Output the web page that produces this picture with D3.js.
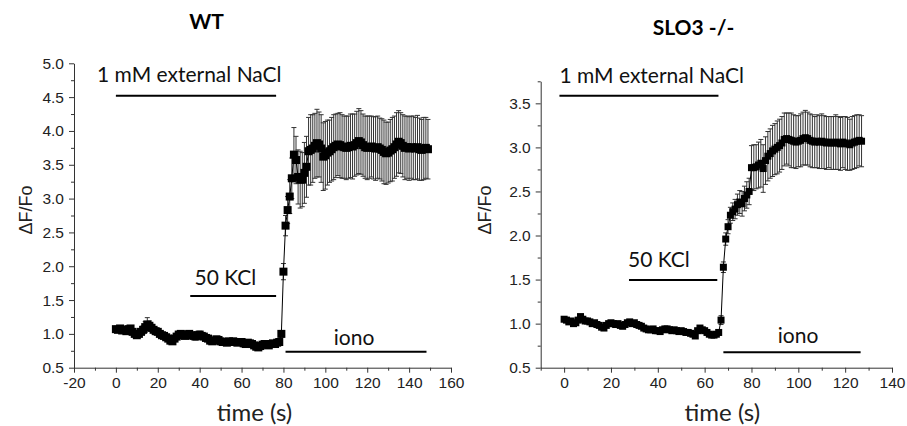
<!DOCTYPE html>
<html>
<head>
<meta charset="utf-8">
<script src="https://cdn.jsdelivr.net/npm/d3@7"></script>
<style>
  body { margin: 0; background: #fff; }
  svg { display: block; }
</style>
</head>
<body>
<svg id="chart" width="907" height="426"></svg>
<script>
// WT, time in s
var wtTime = [0,1,2,3,4,5,6,7,8,9,10,11,12,13,14,15,16,17,18,19,20,21,22,23,24,25,26,27,28,29,
  30,31,32,33,34,35,36,37,38,39,40,41,42,43,44,45,46,47,48,49,50,51,52,53,54,55,56,57,58,59,
  60,61,62,63,64,65,66,67,68,69,70,71,72,73,74,75,76,77,78,79,80,81,82,83,84,85,86,87,88,89,
  90,91,92,93,94,95,96,97,98,99,100,101,102,103,104,105,106,107,108,109,110,111,112,113,114,
  115,116,117,118,119,120,121,122,123,124,125,126,127,128,129,130,131,132,133,134,135,136,137,
  138,139,140,141,142,143,144,145,146,147,148,149];
var wtValue = [1.07,1.06,1.08,1.05,1.06,1.04,1.07,1.08,1.03,1.00,0.98,1.00,1.03,1.06,1.10,1.14,1.12,1.09,1.06,1.04,
  1.03,1.00,0.98,0.97,0.95,0.93,0.90,0.89,0.93,0.96,0.99,1.00,0.98,0.97,0.99,1.00,0.98,0.97,0.96,0.98,
  0.99,0.97,0.96,0.94,0.93,0.90,0.89,0.90,0.92,0.91,0.89,0.88,0.88,0.87,0.89,0.88,0.89,0.88,0.87,0.88,
  0.88,0.86,0.85,0.87,0.86,0.85,0.83,0.81,0.80,0.82,0.84,0.85,0.84,0.83,0.85,0.86,0.85,0.87,0.88,1.00,
  1.92,2.60,2.83,3.03,3.30,3.65,3.57,3.32,3.28,3.28,3.38,3.47,3.70,3.72,3.74,3.78,3.82,3.80,3.74,3.62,
  3.64,3.68,3.70,3.73,3.76,3.78,3.80,3.79,3.77,3.76,3.75,3.76,3.78,3.77,3.79,3.82,3.85,3.83,3.79,3.76,
  3.75,3.76,3.77,3.75,3.74,3.76,3.74,3.72,3.69,3.67,3.68,3.71,3.73,3.76,3.80,3.84,3.82,3.78,3.75,3.76,
  3.74,3.76,3.75,3.74,3.76,3.73,3.72,3.74,3.75,3.73];
var wtError = [0.03,0.03,0.03,0.03,0.03,0.03,0.03,0.03,0.03,0.03,0.03,0.03,0.04,0.06,0.08,0.10,0.07,0.05,0.04,0.03,
  0.03,0.03,0.03,0.03,0.03,0.03,0.03,0.03,0.03,0.03,0.03,0.03,0.03,0.03,0.03,0.03,0.04,0.04,0.05,0.05,
  0.05,0.04,0.04,0.03,0.03,0.03,0.03,0.03,0.03,0.03,0.03,0.03,0.03,0.03,0.03,0.03,0.03,0.03,0.03,0.03,
  0.03,0.03,0.03,0.03,0.03,0.03,0.03,0.03,0.03,0.03,0.03,0.03,0.03,0.03,0.03,0.03,0.03,0.03,0.03,0.05,
  0.12,0.15,0.20,0.25,0.30,0.40,0.35,0.40,0.42,0.40,0.45,0.45,0.50,0.52,0.50,0.48,0.50,0.48,0.50,0.50,
  0.50,0.48,0.46,0.47,0.48,0.47,0.46,0.48,0.47,0.46,0.47,0.46,0.47,0.48,0.46,0.47,0.48,0.47,0.46,0.46,
  0.47,0.46,0.45,0.46,0.47,0.46,0.45,0.46,0.47,0.46,0.45,0.46,0.47,0.46,0.47,0.46,0.45,0.46,0.47,0.46,
  0.47,0.46,0.47,0.46,0.47,0.46,0.45,0.46,0.45,0.44];

// SLO3 -/-, time in s
var sloTime = [0,1,2,3,4,5,6,7,8,9,10,11,12,13,14,15,16,17,18,19,20,21,22,23,24,25,26,27,28,29,
  30,31,32,33,34,35,36,37,38,39,40,41,42,43,44,45,46,47,48,49,50,51,52,53,54,55,56,57,58,59,
  60,61,62,63,64,65,66,67,68,69,70,71,72,73,74,75,76,77,78,79,80,81,82,83,84,85,86,87,88,89,
  90,91,92,93,94,95,96,97,98,99,100,101,102,103,104,105,106,107,108,109,110,111,112,113,114,
  115,116,117,118,119,120,121,122,123,124,125,126,127];
var sloValue = [1.05,1.04,1.02,1.03,1.00,1.01,1.04,1.08,1.05,1.03,1.03,1.02,1.00,1.01,0.99,0.98,0.96,0.95,0.98,1.00,
  1.01,1.00,0.99,1.00,0.98,0.97,0.99,1.01,1.02,1.00,1.01,0.99,0.98,0.97,0.95,0.94,0.93,0.93,0.94,0.92,
  0.92,0.91,0.93,0.94,0.94,0.93,0.92,0.93,0.92,0.91,0.92,0.91,0.90,0.90,0.89,0.88,0.86,0.92,0.95,0.93,
  0.92,0.90,0.88,0.87,0.87,0.88,0.90,1.04,1.64,1.96,2.10,2.23,2.27,2.30,2.35,2.38,2.36,2.42,2.46,2.50,
  2.77,2.77,2.78,2.80,2.82,2.76,2.85,2.90,2.93,2.96,2.98,3.00,3.02,3.05,3.09,3.10,3.09,3.08,3.07,3.06,
  3.07,3.08,3.10,3.11,3.10,3.08,3.07,3.06,3.07,3.06,3.07,3.06,3.05,3.06,3.05,3.05,3.06,3.05,3.04,3.06,
  3.05,3.04,3.03,3.05,3.06,3.07,3.08,3.07];
var sloError = [0.02,0.02,0.02,0.02,0.02,0.02,0.02,0.02,0.02,0.02,0.02,0.02,0.02,0.02,0.02,0.02,0.02,0.02,0.02,0.02,
  0.02,0.02,0.02,0.02,0.02,0.02,0.02,0.02,0.02,0.02,0.02,0.02,0.02,0.02,0.02,0.02,0.02,0.02,0.02,0.02,
  0.02,0.02,0.02,0.02,0.02,0.02,0.02,0.02,0.02,0.02,0.02,0.02,0.02,0.02,0.02,0.02,0.02,0.02,0.02,0.02,
  0.02,0.02,0.02,0.02,0.02,0.02,0.03,0.05,0.06,0.07,0.08,0.09,0.10,0.11,0.12,0.13,0.14,0.14,0.15,0.15,
  0.25,0.26,0.25,0.26,0.27,0.27,0.27,0.28,0.28,0.29,0.29,0.30,0.30,0.30,0.30,0.29,0.30,0.31,0.30,0.30,
  0.29,0.30,0.30,0.31,0.30,0.30,0.30,0.29,0.30,0.30,0.31,0.30,0.30,0.29,0.30,0.30,0.31,0.30,0.30,0.29,
  0.30,0.30,0.29,0.30,0.30,0.30,0.29,0.29];

// axis ticks
var wtXTicks = [-20, 0, 20, 40, 60, 80, 100, 120, 140, 160];
var wtXMinor = [-10, 10, 30, 50, 70, 90, 110, 130, 150];
var wtYTicks = [0.5, 1.0, 1.5, 2.0, 2.5, 3.0, 3.5, 4.0, 4.5, 5.0];
var wtYMinor = [0.75, 1.25, 1.75, 2.25, 2.75, 3.25, 3.75, 4.25, 4.75];
var sloXTicks = [0, 20, 40, 60, 80, 100, 120, 140];
var sloXMinor = [-10, 10, 30, 50, 70, 90, 110, 130];
var sloYTicks = [0.5, 1.0, 1.5, 2.0, 2.5, 3.0, 3.5];
var sloYMinor = [0.75, 1.25, 1.75, 2.25, 2.75, 3.25, 3.75];

// treatment bars: label, start, end (s), level, label x (s)
var wtBars = [
  { label: '1 mM external NaCl', t0: 0, t1: 76.5, level: 4.52, lx: -9, anchor: 'start' },
  { label: '50 KCl', t0: 35.5, t1: 76.5, level: 1.56, lx: 52.3, anchor: 'middle' },
  { label: 'iono', t0: 81, t1: 148.3, level: 0.737, lx: 113.7, anchor: 'middle' }
];
var sloBars = [
  { label: '1 mM external NaCl', t0: -2, t1: 65.9, level: 3.586, lx: -2, anchor: 'start' },
  { label: '50 KCl', t0: 27.7, t1: 65.4, level: 1.495, lx: 40.5, anchor: 'middle' },
  { label: 'iono', t0: 68, t1: 126.6, level: 0.675, lx: 99.9, anchor: 'middle' }
];

var svg = d3.select('#chart');

var drawPanel = function (p) {
  var g = svg.append('g');

  var x = d3.scaleLinear().domain(p.xDomain).range(p.xRange);
  var y = d3.scaleLinear().domain(p.yDomain).range([367.7, p.yTop]);

  var pts = p.time.map(function (t, i) {
    return { t: t, v: p.value[i], e: p.error[i] };
  });

  // axes
  g.append('g')
    .attr('transform', 'translate(0,' + y.range()[0] + ')')
    .call(d3.axisBottom(x).tickValues(p.xTicks).tickSize(5).tickPadding(4).tickSizeOuter(0)
      .tickFormat(function (d) { return String(d); }));
  g.append('g')
    .attr('transform', 'translate(0,' + y.range()[0] + ')')
    .call(d3.axisBottom(x).tickValues(p.xMinor).tickSize(3).tickFormat('').tickSizeOuter(0))
    .select('.domain').remove();

  g.append('g')
    .attr('transform', 'translate(' + x.range()[0] + ',0)')
    .call(d3.axisLeft(y).tickValues(p.yTicks).tickSize(5).tickPadding(5).tickSizeOuter(0)
      .tickFormat(d3.format('.1f')));
  g.append('g')
    .attr('transform', 'translate(' + x.range()[0] + ',0)')
    .call(d3.axisLeft(y).tickValues(p.yMinor).tickSize(3).tickFormat('').tickSizeOuter(0))
    .select('.domain').remove();

  g.selectAll('.domain, .tick line').attr('stroke', '#333');
  g.selectAll('.tick text')
    .attr('fill', '#222')
    .style('font-family', 'Liberation Sans, Arial, sans-serif')
    .style('font-size', '15.5px');

  // axis titles
  g.append('text')
    .attr('x', (x.range()[0] + x.range()[1]) / 2 + p.xTitleShift)
    .attr('y', 421)
    .attr('text-anchor', 'middle')
    .style('font-family', 'Lato, sans-serif')
    .style('font-size', '24px')
    .attr('fill', '#222')
    .text('time (s)');

  g.append('text')
    .attr('transform', 'translate(' + p.yTitleX + ',210) rotate(-90)')
    .attr('text-anchor', 'middle')
    .style('font-family', 'Liberation Sans, Arial, sans-serif')
    .style('font-size', '18px')
    .attr('fill', '#222')
    .text('ΔF/Fo');

  // panel title
  g.append('text')
    .attr('x', p.titleX)
    .attr('y', p.titleY)
    .attr('text-anchor', 'middle')
    .style('font-family', 'Lato, sans-serif')
    .style('font-weight', '700')
    .style('font-size', '21px')
    .attr('fill', '#000')
    .text(p.title);

  // treatment bars
  p.bars.forEach(function (b, i) {
    g.append('line')
      .attr('x1', x(b.t0)).attr('x2', x(b.t1))
      .attr('y1', y(b.level)).attr('y2', y(b.level))
      .attr('stroke', '#000')
      .attr('stroke-width', 2);
    g.append('text')
      .attr('x', x(b.lx))
      .attr('y', y(b.level) - p.labelGap[i])
      .attr('text-anchor', b.anchor)
      .style('font-family', 'Lato, sans-serif')
      .style('font-size', '21px')
      .attr('fill', '#111')
      .text(b.label);
  });

  // error bars
  var eb = g.append('g').attr('stroke', '#333').attr('stroke-width', 1);
  eb.selectAll('line.v').data(pts).enter().append('line')
    .attr('x1', function (d) { return x(d.t); })
    .attr('x2', function (d) { return x(d.t); })
    .attr('y1', function (d) { return y(d.v - d.e); })
    .attr('y2', function (d) { return y(d.v + d.e); });
  [1, -1].forEach(function (s) {
    eb.selectAll(null).data(pts).enter().append('line')
      .attr('x1', function (d) { return x(d.t) - 2.5; })
      .attr('x2', function (d) { return x(d.t) + 2.5; })
      .attr('y1', function (d) { return y(d.v + s * d.e); })
      .attr('y2', function (d) { return y(d.v + s * d.e); });
  });

  // connecting line
  g.append('path')
    .datum(pts)
    .attr('fill', 'none')
    .attr('stroke', '#000')
    .attr('stroke-width', 1)
    .attr('d', d3.line().x(function (d) { return x(d.t); }).y(function (d) { return y(d.v); }));

  // markers
  var m = p.marker;
  g.selectAll('rect.pt').data(pts).enter().append('rect')
    .attr('class', 'pt')
    .attr('x', function (d) { return x(d.t) - m / 2; })
    .attr('y', function (d) { return y(d.v) - m / 2; })
    .attr('width', m)
    .attr('height', m)
    .attr('fill', '#000');
};

drawPanel({
  title: 'WT', titleX: 206.5, titleY: 29,
  time: wtTime, value: wtValue, error: wtError,
  xDomain: [-20, 160], xRange: [74, 451],
  yDomain: [0.5, 5.0], yTop: 63.3,
  xTicks: wtXTicks, xMinor: wtXMinor, yTicks: wtYTicks, yMinor: wtYMinor,
  bars: wtBars, labelGap: [13.7, 11, 7],
  xTitleShift: -8, yTitleX: 32, marker: 8
});

drawPanel({
  title: 'SLO3 -/-', titleX: 693.5, titleY: 35,
  time: sloTime, value: sloValue, error: sloError,
  xDomain: [-10, 140], xRange: [540.7, 892],
  yDomain: [0.5, 3.75], yTop: 81.3,
  xTicks: sloXTicks, xMinor: sloXMinor, yTicks: sloYTicks, yMinor: sloYMinor,
  bars: sloBars, labelGap: [12.4, 13.3, 9],
  xTitleShift: 6, yTitleX: 491, marker: 7
});
</script>
</body>
</html>
